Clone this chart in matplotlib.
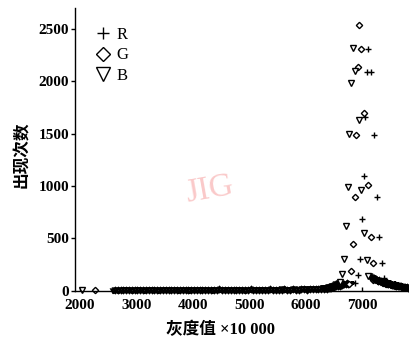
import numpy as np
import matplotlib
matplotlib.use("Agg")
import matplotlib.pyplot as plt
from matplotlib.lines import Line2D

# peak region (gray value x10000, count)
r_peak_x = [7103, 7074, 7145, 7045, 7204, 7021, 7262, 6985, 7297, 6956, 7350, 6920, 7386, 6873]
r_peak_y = [2309, 2083, 2083, 1663, 1482, 1097, 894, 687, 509, 302, 270, 153, 127, 79]
g_peak_x = [6943, 6979, 6914, 7035, 6885, 7103, 6861, 7145, 6826, 7191, 6802, 6761, 7191]
g_peak_y = [2538, 2309, 2131, 1701, 1482, 1011, 894, 512, 448, 264, 188, 67, 105]
b_peak_x = [6826, 6867, 6796, 6930, 6766, 6743, 6979, 6703, 7021, 6673, 7074, 6642, 7103, 6600]
b_peak_y = [2316, 2093, 1982, 1632, 1495, 987, 964, 620, 556, 302, 296, 162, 146, 89]

# isolated low bins at the left end
g_iso_x = [2260]
g_iso_y = [8]
b_iso_x = [2030]
b_iso_y = [8]

# long flat band of small counts (bins every 50 from the start value)
r_band_start, g_band_start, b_band_start = 2600, 2620, 2580
r_band = [8, 12, 6, 10, 14, 9, 7, 11, 13, 8, 10, 6, 12, 9, 15, 11, 8, 10, 13, 7,
          9, 12, 14, 10, 8, 11, 6, 13, 9, 12, 10, 15, 8, 11, 7, 14, 10, 9, 12, 8,
          13, 11, 10, 6, 14, 9, 12, 8, 11, 15, 10, 7, 13, 9, 12, 11, 8, 14, 10, 16,
          9, 12, 15, 11, 13, 10, 17, 12, 14, 11, 18, 15, 13, 19]
g_band = [5, 9, 7, 4, 11, 8, 6, 10, 5, 9, 12, 7, 4, 8, 10, 6, 11, 9, 5, 7,
          12, 8, 6, 10, 9, 4, 11, 7, 8, 12, 6, 9, 10, 5, 8, 11, 7, 13, 9, 6,
          10, 8, 12, 5, 9, 11, 7, 10, 13, 8, 6, 12, 9, 11, 7, 14, 10, 8, 12, 9,
          13, 11, 10, 15, 12, 9, 14, 16, 11, 13, 17, 14, 16, 18]
b_band = [3, 6, 2, 5, 8, 4, 7, 3, 6, 9, 5, 2, 7, 4, 8, 6, 3, 9, 5, 7,
          4, 8, 6, 2, 9, 5, 7, 3, 8, 6, 10, 4, 7, 5, 9, 3, 8, 6, 11, 7,
          4, 9, 6, 8, 5, 10, 7, 3, 9, 6, 11, 8, 5, 10, 7, 12, 9, 6, 11, 8,
          13, 10, 7, 12, 14, 9, 11, 15, 13, 16, 14, 18, 17, 20]

# rising tail before the peak (bins every 20)
r_left_start, g_left_start, b_left_start = 6340, 6320, 6300
r_left = [22, 24, 21, 26, 28, 25, 30, 33, 31, 36, 38, 41, 44, 42, 47, 50,
          53, 51, 56, 60, 58, 63, 66, 70, 74, 78]
g_left = [20, 23, 25, 22, 27, 30, 28, 33, 36, 38, 42, 44, 48, 52, 50, 56,
          60, 63, 61, 67, 72, 66]
b_left = [24, 26, 28, 31, 30, 34, 38, 36, 42, 46, 51, 56, 62, 68, 76]

# decaying tail after the peak (bins every 20)
r_right_start, g_right_start, b_right_start = 7400, 7200, 7120
r_right = [95, 88, 92, 80, 84, 75, 78, 70, 66, 72, 60, 64, 55, 58, 50, 53,
           46, 48, 42, 45, 38, 40]
g_right = [120, 110, 115, 102, 96, 100, 90, 85, 88, 80, 76, 72, 75, 68, 64, 66,
           60, 57, 55, 52, 50, 48, 45, 46, 42, 40, 38, 36, 35, 33, 32, 30]
b_right = [140, 128, 120, 112, 105, 100, 94, 90, 85, 80, 76, 72, 70, 66, 62, 60,
           57, 54, 52, 50, 47, 45, 43, 41, 40, 38, 36, 34, 33, 31, 30, 28,
           27, 26, 25, 24]

x_ticks = [2000, 3000, 4000, 5000, 6000, 7000]
y_ticks = [0, 500, 1000, 1500, 2000, 2500]


def bins(start, step, vals):
    return start + step * np.arange(len(vals))


def main():
    fig = plt.figure(figsize=(4.09, 3.39), dpi=100)
    ax = fig.add_axes([0.183, 0.142, 0.817, 0.835])

    styles = {
        "R": dict(marker="+", markerfacecolor="black"),
        "G": dict(marker="D", markerfacecolor="white"),
        "B": dict(marker="v", markerfacecolor="white"),
    }
    peak_size = {"R": 4.5, "G": 3.2, "B": 4.2}
    low_size = {"R": 3.5, "G": 2.6, "B": 3.0}

    data = {
        "R": (r_peak_x, r_peak_y, [], [], r_band_start, r_band, r_left_start, r_left,
              r_right_start, r_right),
        "G": (g_peak_x, g_peak_y, g_iso_x, g_iso_y, g_band_start, g_band, g_left_start,
              g_left, g_right_start, g_right),
        "B": (b_peak_x, b_peak_y, b_iso_x, b_iso_y, b_band_start, b_band, b_left_start,
              b_left, b_right_start, b_right),
    }

    kw = dict(linestyle="none", clip_on=False, color="black")
    for key, (px, py, ix, iy, bs, band, ls, left, rs, right) in data.items():
        low_x = np.concatenate([bins(bs, 50, band), bins(ls, 20, left), bins(rs, 20, right)])
        low_y = np.concatenate([band, left, right])
        # dense low counts print as a solid smudge in the original
        ax.plot(low_x, low_y, markersize=low_size[key], markeredgewidth=1.6,
                **styles[key], **kw)
        if ix:
            ax.plot(ix, iy, markersize=peak_size[key], markeredgewidth=1.0,
                    **styles[key], **kw)
        ax.plot(px, py, markersize=peak_size[key], markeredgewidth=1.0,
                **styles[key], **kw)

    ax.set_xlim(1912, 7823)
    ax.set_ylim(0, 2700)
    ax.set_xticks(x_ticks)
    ax.set_yticks(y_ticks)
    for s in ["top", "right"]:
        ax.spines[s].set_visible(False)
    for s in ["left", "bottom"]:
        ax.spines[s].set_linewidth(1.0)
    ax.tick_params(axis="y", direction="out", length=3, width=1, pad=1)
    ax.tick_params(axis="x", direction="in", length=3, width=1, pad=5.5)
    for lab in ax.get_xticklabels() + ax.get_yticklabels():
        lab.set_fontfamily("Liberation Serif")
        lab.set_fontweight("bold")
        lab.set_fontsize(11)

    handles = [
        Line2D([], [], linestyle="none", marker="+", color="black", markersize=9,
               markeredgewidth=1.0),
        Line2D([], [], linestyle="none", marker="D", color="black", markersize=7,
               markerfacecolor="white", markeredgewidth=1.0),
        Line2D([], [], linestyle="none", marker="v", color="black", markersize=10,
               markerfacecolor="white", markeredgewidth=1.0),
    ]
    ax.legend(handles, ["R", "G", "B"], loc="upper left", bbox_to_anchor=(0.04, 0.955),
              frameon=False, handlelength=1.0, handletextpad=0.3, labelspacing=0.25,
              borderaxespad=0, prop={"family": "Liberation Serif", "size": 12})

    fig.text(0.054, 0.543, "出现次数", rotation=90, ha="center", va="center",
             fontsize=12, fontweight="bold", family=["Noto Sans CJK SC"])
    fig.text(0.54, 0.026, "灰度值 ×10 000", ha="center", va="center", fontsize=12,
             fontweight="bold", family=["Liberation Serif", "Noto Sans CJK SC"])

    fig.text(0.513, 0.44, "JIG", ha="center", va="center", fontsize=24, rotation=10,
             color="#f9bcbc", family="Liberation Serif", alpha=0.8)

    fig.savefig("out.png", dpi=100)
    plt.close(fig)


if __name__ == "__main__":
    main()
